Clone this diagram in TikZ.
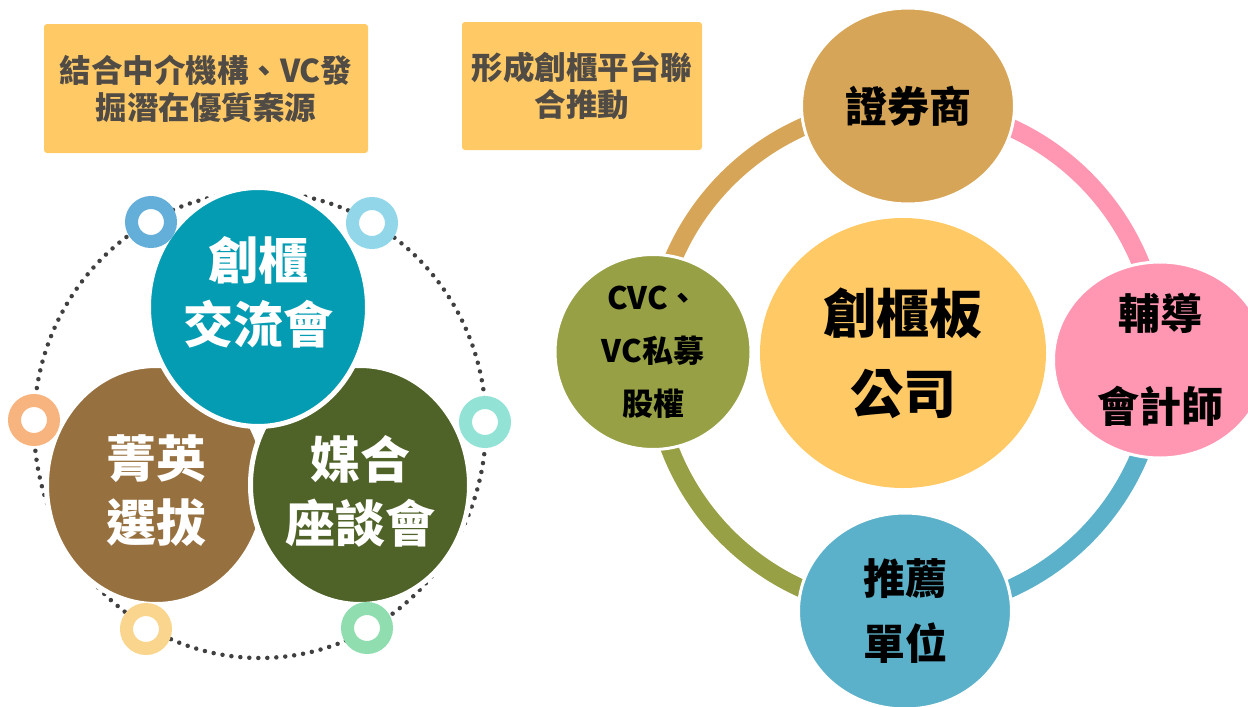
\documentclass[tikz,border=0pt]{standalone}
\usepackage{fontspec}
\setmainfont{Noto Sans CJK TC}
\usepackage{tikz}
\usetikzlibrary{shapes.geometric}
\definecolor{NoteYellow}{RGB}{255,202,102}
\definecolor{NoteText}{RGB}{80,75,69}
\definecolor{TalkTeal}{RGB}{4,156,178}
\definecolor{EliteBrown}{RGB}{151,112,63}
\definecolor{MatchGreen}{RGB}{79,98,40}
\definecolor{DotGray}{RGB}{64,64,64}
\definecolor{RingBlue}{RGB}{100,174,218}
\definecolor{RingSky}{RGB}{146,214,233}
\definecolor{RingOrange}{RGB}{248,180,127}
\definecolor{RingAqua}{RGB}{147,226,214}
\definecolor{RingCream}{RGB}{249,213,141}
\definecolor{RingMint}{RGB}{144,221,176}
\definecolor{BrokerTan}{RGB}{214,165,87}
\definecolor{TutorPink}{RGB}{255,151,178}
\definecolor{PushBlue}{RGB}{92,177,202}
\definecolor{FundOlive}{RGB}{151,160,69}
\tikzset{
	note/.style={fill=NoteYellow, rounded corners=3pt, text=NoteText, align=center, inner sep=0pt,
		font=\bfseries\fontsize{31.5}{37}\selectfont},
	disc/.style={ellipse, fill=#1, draw=white, line width=5pt, inner sep=0pt,
		minimum width=219pt, minimum height=239pt},
	disctext/.style={text=white, align=center, font=\bfseries\fontsize{50}{64}\selectfont},
	smallring/.style={circle, draw=#1, fill=white, line width=13pt, inner sep=0pt, minimum size=39pt},
	partner/.style={ellipse, fill=#1, draw=white, line width=3pt, inner sep=0pt, align=center,
		minimum width=213pt, minimum height=196pt, font=\bfseries\fontsize{42}{65}\selectfont},
	band/.style={line width=18pt}
}
\begin{document}
\begin{tikzpicture}[x=1pt, y=-1pt]
	\useasboundingbox (0,0) rectangle (1248,707);
%
	\node[note, minimum width=324pt, minimum height=129pt] (note1) at (206,88.5)
		{結合中介機構、VC發\\掘潛在優質案源};
	\node[note, minimum width=240pt, minimum height=128pt] (note2) at (582,86)
		{形成創櫃平台聯\\合推動};
%
	%dotted orbit
	\coordinate (orbit) at (260,425);
	\draw[DotGray, line width=4.5pt, line cap=round, dash pattern=on 0pt off 9pt]
		(orbit) ellipse [x radius=226pt, y radius=233pt];
%
	\node[disc=EliteBrown] (elite) at (156,485) {};
	\node[disc=MatchGreen] (match) at (360,485) {};
	\node[disc=TalkTeal] (talk) at (258,307) {};
	\node[disctext] (talkT) at ([yshift=15pt]talk.center) {創櫃\\交流會};
	\node[disctext] (eliteT) at ([yshift=-6pt]elite.center) {菁英\\選拔};
	\node[disctext] (matchT) at ([yshift=-6pt]match.center) {媒合\\座談會};
%
	\node[smallring=RingBlue] (r1) at (151,222) {};
	\node[smallring=RingSky] (r2) at (372,223) {};
	\node[smallring=RingOrange] (r3) at (34,420) {};
	\node[smallring=RingAqua] (r4) at (485,422) {};
	\node[smallring=RingCream] (r5) at (146,629) {};
	\node[smallring=RingMint] (r6) at (367,628) {};
%
	%partner ring
	\coordinate (brokerC) at (906,105);
	\coordinate (tutorC) at (1159,358);
	\coordinate (pushC) at (906,611);
	\coordinate (fundC) at (653,358);
	\draw[band, BrokerTan] (brokerC) arc[start angle=90, end angle=180, radius=253pt];
	\draw[band, FundOlive] (fundC) arc[start angle=180, end angle=270, radius=253pt];
	\draw[band, PushBlue] (pushC) arc[start angle=270, end angle=360, radius=253pt];
	\draw[band, TutorPink] (tutorC) arc[start angle=0, end angle=90, radius=253pt];
%
	\node[ellipse, fill=NoteYellow, inner sep=0pt, align=center, minimum width=286pt, minimum height=270pt,
		font=\bfseries\fontsize{53}{80}\selectfont] (hub) at (903,353) {創櫃板\\公司};
	\node[partner=BrokerTan] (broker) at (908,106) {證券商};
	\node[partner=TutorPink, font=\bfseries\fontsize{42}{93}\selectfont] (tutor) at (1160,360) {輔導\\會計師};
	\node[partner=PushBlue] (push) at (905,611) {推薦\\單位};
	\node[partner=FundOlive, minimum width=196pt, minimum height=195pt,
		font=\bfseries\fontsize{31}{53}\selectfont] (fund) at (653,352) {CVC、\\VC私募\\股權};
\end{tikzpicture}
\end{document}
